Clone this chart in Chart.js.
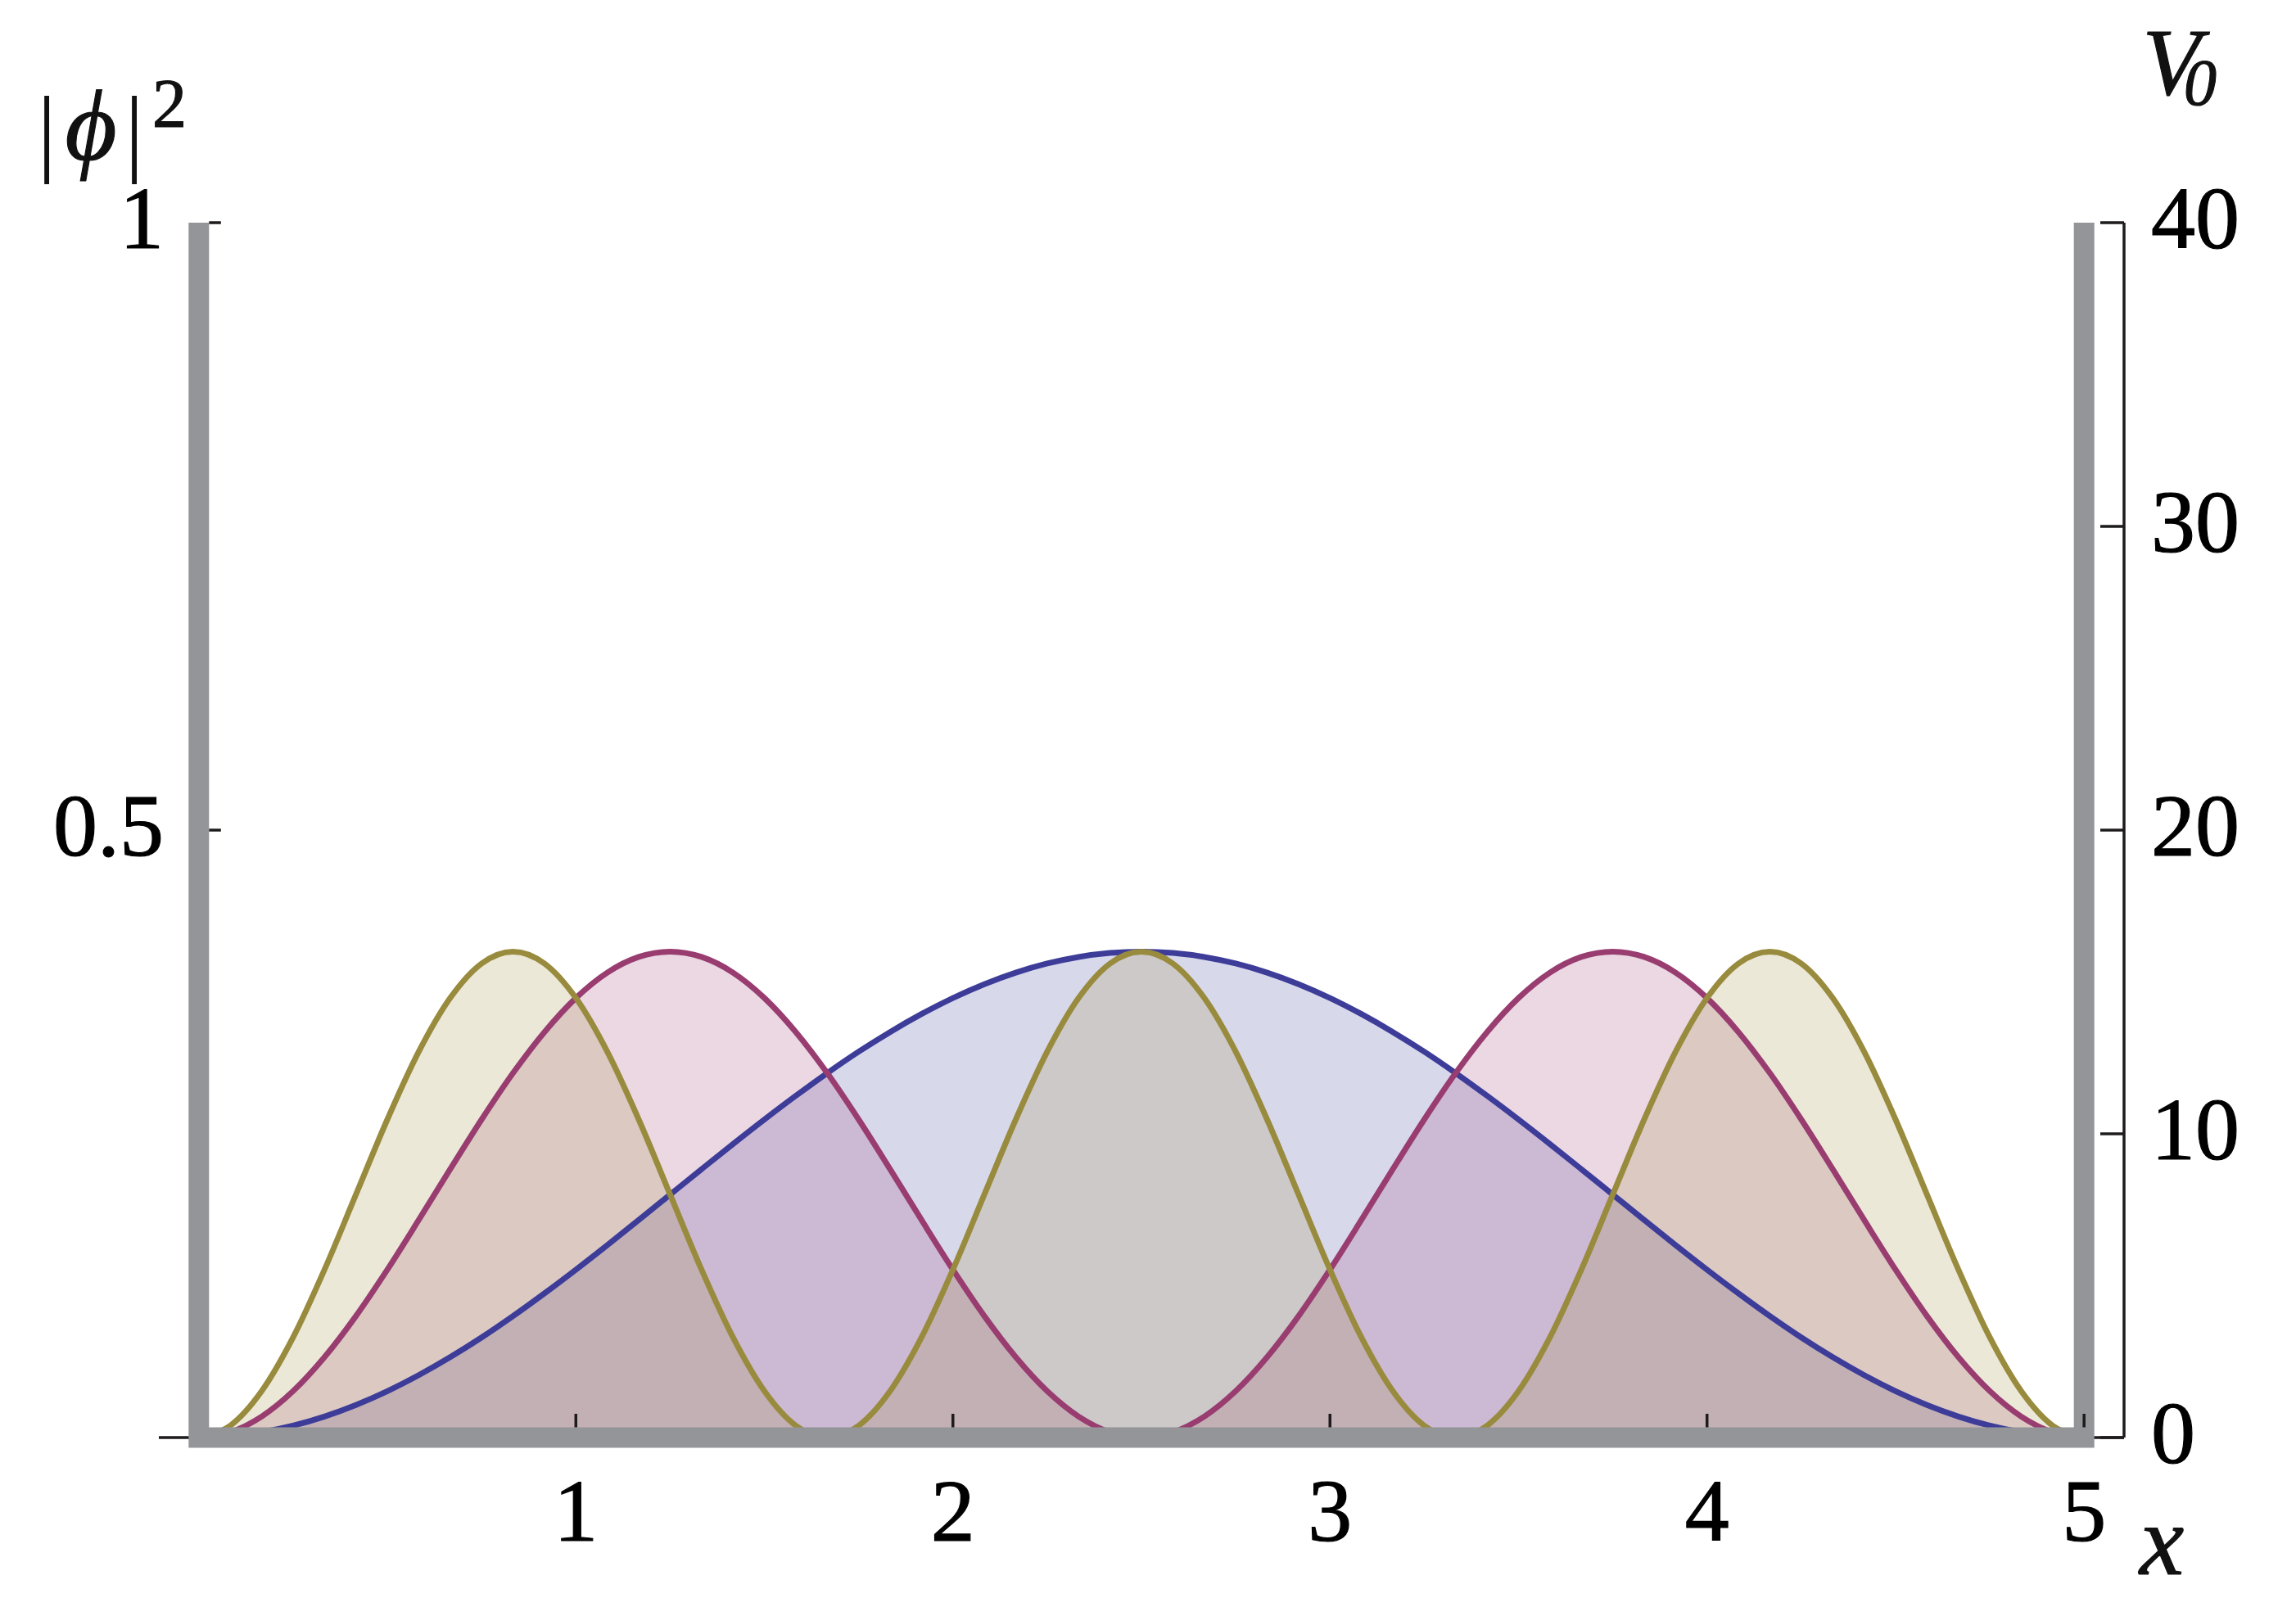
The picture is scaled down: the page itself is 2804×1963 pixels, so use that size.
<!DOCTYPE html>
<html>
<head>
<meta charset="utf-8">
<script src="https://cdn.jsdelivr.net/npm/chart.js@4.4.1/dist/chart.umd.min.js"></script>
<style>
html,body{margin:0;padding:0;background:#fff;}
#wrap{width:2804px;height:1963px;position:relative;}
canvas{display:block;}
</style>
</head>
<body>
<div id="wrap"><canvas id="c" width="2804" height="1963"></canvas></div>
<script>
// ---- data ----
const xValues = [0,0.0833,0.1667,0.25,0.3333,0.4167,0.5,0.5833,0.6667,0.75,0.8333,0.9167,1,1.0833,1.1667,1.25,1.3333,1.4167,1.5,1.5833,1.6667,1.75,1.8333,1.9167,2,2.0833,2.1667,2.25,2.3333,2.4167,2.5,2.5833,2.6667,2.75,2.8333,2.9167,3,3.0833,3.1667,3.25,3.3333,3.4167,3.5,3.5833,3.6667,3.75,3.8333,3.9167,4,4.0833,4.1667,4.25,4.3333,4.4167,4.5,4.5833,4.6667,4.75,4.8333,4.9167,5];
const phi1 = [0,.0011,.0044,.0098,.0173,.0268,.0382,.0514,.0662,.0824,.1000,.1187,.1382,.1584,.1791,.2000,.2209,.2416,.2618,.2813,.3000,.3176,.3338,.3486,.3618,.3732,.3827,.3902,.3956,.3989,.4000,.3989,.3956,.3902,.3827,.3732,.3618,.3486,.3338,.3176,.3000,.2813,.2618,.2416,.2209,.2000,.1791,.1584,.1382,.1187,.1000,.0824,.0662,.0514,.0382,.0268,.0173,.0098,.0044,.0011,0];
const phi2 = [0,.0044,.0173,.0382,.0662,.1000,.1382,.1791,.2209,.2618,.3000,.3338,.3618,.3827,.3956,.4000,.3956,.3827,.3618,.3338,.3000,.2618,.2209,.1791,.1382,.1000,.0662,.0382,.0173,.0044,0,.0044,.0173,.0382,.0662,.1000,.1382,.1791,.2209,.2618,.3000,.3338,.3618,.3827,.3956,.4000,.3956,.3827,.3618,.3338,.3000,.2618,.2209,.1791,.1382,.1000,.0662,.0382,.0173,.0044,0];
const phi3 = [0,.0098,.0382,.0824,.1382,.2000,.2618,.3176,.3618,.3902,.4000,.3902,.3618,.3176,.2618,.2000,.1382,.0824,.0382,.0098,0,.0098,.0382,.0824,.1382,.2000,.2618,.3176,.3618,.3902,.4000,.3902,.3618,.3176,.2618,.2000,.1382,.0824,.0382,.0098,0,.0098,.0382,.0824,.1382,.2000,.2618,.3176,.3618,.3902,.4000,.3902,.3618,.3176,.2618,.2000,.1382,.0824,.0382,.0098,0];
const wallX = [0,0,5,5];
const wallV = [40,0,0,40];
const xTicks = [1,2,3,4,5];
const xTickLabels = ['1','2','3','4','5'];
const leftTicks = [0,0.5,1];
const leftTickLabels = ['','0.5','1'];
const rightTicks = [0,10,20,30,40];
const rightTickLabels = ['0','10','20','30','40'];

const pts = ys => xValues.map((x,i)=>({x:x,y:ys[i]}));
const C1='rgb(61,61,153)', C2='rgb(153,61,113)', C3='rgb(153,139,61)';
const F1='rgba(61,61,153,0.2)', F2='rgba(153,61,113,0.2)', F3='rgba(153,139,61,0.2)';
const GRAY='#949599', INK='#1e1b1c';
const WALL=25;
const SERIF='"Times New Roman","Liberation Serif",Times,serif';

const decor = {
  id:'decor',
  beforeDatasetsDraw(chart){
    const ctx=chart.ctx, xs=chart.scales.x, ys=chart.scales.y;
    const y0=ys.getPixelForValue(0);
    ctx.save();
    ctx.strokeStyle=INK; ctx.lineWidth=3.5; ctx.lineCap='butt';
    ctx.beginPath(); ctx.moveTo(xs.left,y0); ctx.lineTo(xs.right,y0); ctx.stroke();
    ctx.restore();
  },
  afterDatasetsDraw(chart){
    const ctx=chart.ctx, xs=chart.scales.x, ys=chart.scales.y, y2=chart.scales.y2;
    const y0=ys.getPixelForValue(0), x0=xs.getPixelForValue(0);
    const TL=29;
    ctx.save();
    ctx.strokeStyle=INK; ctx.lineWidth=3.5; ctx.lineCap='butt';
    xTicks.forEach(v=>{
      const px=xs.getPixelForValue(v);
      ctx.beginPath(); ctx.moveTo(px,y0-WALL/2); ctx.lineTo(px,y0-TL); ctx.stroke();
    });
    leftTicks.forEach(v=>{
      if(v===0) return;
      const py=ys.getPixelForValue(v);
      ctx.beginPath(); ctx.moveTo(x0+WALL/2,py); ctx.lineTo(x0+27,py); ctx.stroke();
    });
    const xr=xs.right;
    ctx.beginPath(); ctx.moveTo(xr,y2.getPixelForValue(0)); ctx.lineTo(xr,y2.getPixelForValue(40)); ctx.stroke();
    rightTicks.forEach(v=>{
      const py=y2.getPixelForValue(v);
      ctx.beginPath(); ctx.moveTo(xr,py); ctx.lineTo(xr-TL,py); ctx.stroke();
    });
    // tick labels
    ctx.fillStyle='#000';
    ctx.strokeStyle='#000'; ctx.lineWidth=1.2;
    ctx.font='108px '+SERIF;
    ctx.textBaseline='middle';
    ctx.textAlign='center';
    const lbl=(t,x,y)=>{ ctx.fillText(t,x,y); ctx.strokeText(t,x,y); };
    xTicks.forEach((v,i)=>{ lbl(xTickLabels[i], xs.getPixelForValue(v), 1854); });
    ctx.textAlign='right';
    leftTicks.forEach((v,i)=>{ if(leftTickLabels[i]) lbl(leftTickLabels[i], 200, ys.getPixelForValue(v)+3); });
    ctx.textAlign='left';
    rightTicks.forEach((v,i)=>{ lbl(rightTickLabels[i], 2627, y2.getPixelForValue(v)+3); });
    // axis titles
    ctx.fillStyle='#111'; ctx.strokeStyle='#111';
    ctx.textAlign='center';
    ctx.textBaseline='alphabetic';
    ctx.font='118px '+SERIF;
    ctx.fillText('|', 57, 200);
    ctx.fillText('|', 164, 200);
    ctx.font='italic 122px '+SERIF;
    lbl('\u03D5', 111, 195);
    ctx.font='84px '+SERIF;
    lbl('2', 207, 155);
    ctx.font='italic 116px '+SERIF;
    lbl('V', 2652, 115);
    ctx.font='italic 80px '+SERIF;
    lbl('0', 2687, 128);
    ctx.font='italic 122px '+SERIF;
    lbl('x', 2640, 1923);
    ctx.restore();
  }
};

const lineDs = (label,data,c,f,order)=>({
  label:label, data:pts(data), yAxisID:'y', borderColor:c, backgroundColor:f,
  borderWidth:7, pointRadius:0, fill:'origin', cubicInterpolationMode:'monotone', order:order
});

new Chart(document.getElementById('c'),{
  type:'line',
  data:{datasets:[
    {label:'V', data:wallX.map((x,i)=>({x:x,y:wallV[i]})), yAxisID:'y2', borderColor:GRAY,
     borderWidth:WALL, pointRadius:0, fill:false, tension:0, borderJoinStyle:'miter', borderCapStyle:'butt', clip:false, order:0},
    lineDs('n=3',phi3,C3,F3,1),
    lineDs('n=2',phi2,C2,F2,2),
    lineDs('n=1',phi1,C1,F1,3)
  ]},
  options:{
    responsive:false, animation:false, devicePixelRatio:1,
    layout:{padding:{left:194,right:210,top:272,bottom:207}},
    scales:{
      x:{type:'linear', min:-0.106, max:5.106, display:false},
      y:{type:'linear', min:0, max:1, display:false},
      y2:{type:'linear', min:0, max:40, display:false, position:'right'}
    },
    plugins:{legend:{display:false}, tooltip:{enabled:false}, filler:{drawTime:'beforeDatasetsDraw'}}
  },
  plugins:[decor]
});
</script>
</body>
</html>
